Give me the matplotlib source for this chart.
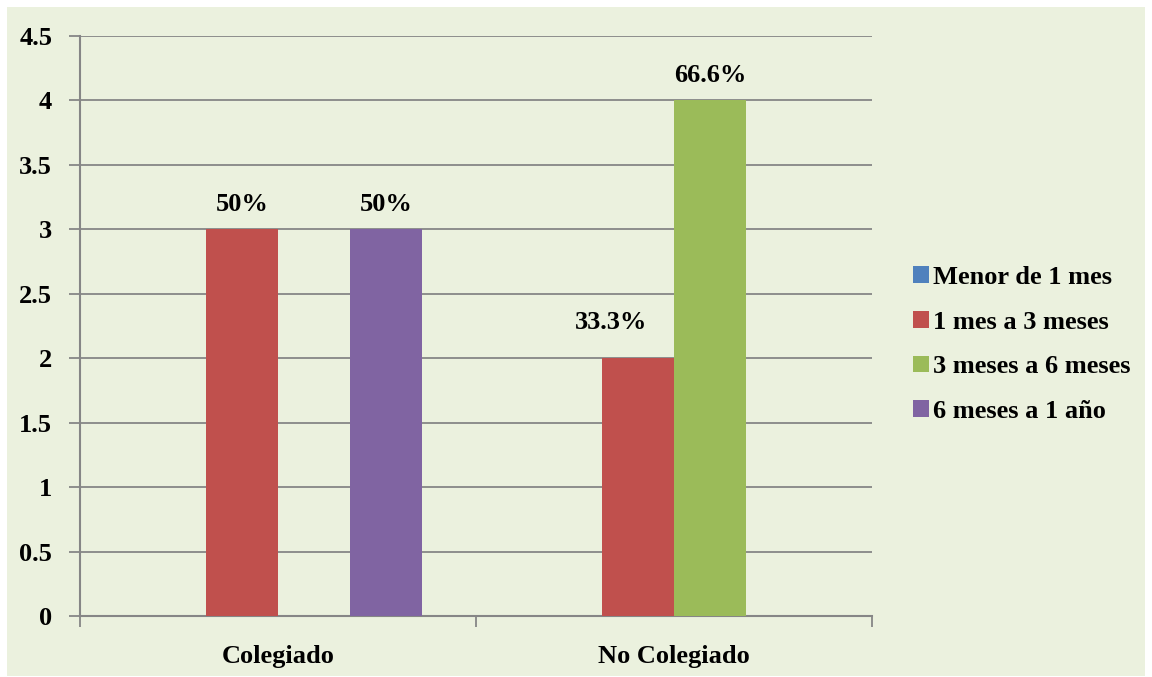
import matplotlib
matplotlib.use("Agg")
import matplotlib.pyplot as plt
from matplotlib.patches import Rectangle, Patch
import numpy as np

categories = ["Colegiado", "No Colegiado"]
series_names = ["Menor de 1 mes", "1 mes a 3 meses", "3 meses a 6 meses", "6 meses a 1 año"]
menor_1_mes = [0, 0]
mes1_a_3 = [3, 2]
mes3_a_6 = [0, 4]
mes6_a_1ano = [3, 0]
pct_labels = [["", ""], ["50%", "33.3%"], ["", "66.6%"], ["50%", ""]]
y_ticks = [0, 0.5, 1, 1.5, 2, 2.5, 3, 3.5, 4, 4.5]
y_tick_labels = ["0", "0.5", "1", "1.5", "2", "2.5", "3", "3.5", "4", "4.5"]

colors = ["#4F81BD", "#C0504D", "#9BBB59", "#8064A2"]
grid_c = "#868686"
bg = "#EBF1DE"

plt.rcParams["font.family"] = ["Liberation Serif", "DejaVu Serif"]
plt.rcParams["font.weight"] = "bold"
FS = 19

W, H = 1152, 677
fig = plt.figure(figsize=(W / 100, H / 100), dpi=100, facecolor="white")
fig.patches.append(Rectangle((7 / W, 1 - 676 / H), (1145 - 7) / W, (676 - 7) / H,
                             transform=fig.transFigure, facecolor=bg, edgecolor="none", zorder=-10))

ax = fig.add_axes([80 / W, 1 - 616 / H, (872 - 80) / W, (616 - 36) / H])
ax.set_facecolor("none")

series = [menor_1_mes, mes1_a_3, mes3_a_6, mes6_a_1ano]
x = np.arange(len(categories))
bw = 0.182
for i, (vals, name, c) in enumerate(zip(series, series_names, colors)):
    bars = ax.bar(x + (i - 1.5) * bw, vals, bw, color=c, label=name, zorder=3)
    for j, rect in enumerate(bars):
        lab = pct_labels[i][j]
        if not lab:
            continue
        # the 33.3% label was moved manually in the original chart
        dx, dy = (-27, 29) if lab == "33.3%" else (0, 18)
        ax.annotate(lab, (rect.get_x() + rect.get_width() / 2, rect.get_height()),
                    xytext=(dx, dy), textcoords="offset pixels",
                    ha="center", va="baseline", fontsize=FS, fontweight="bold")

ax.set_xlim(-0.5, 1.5)
ax.set_ylim(0, 4.5)
ax.set_yticks(y_ticks)
ax.set_yticklabels(y_tick_labels)
ax.set_xticks([-0.5, 0.5, 1.5])
ax.set_xticklabels(["", "", ""])
ax.set_xticks(x, minor=True)
ax.set_xticklabels(categories, minor=True)
ax.tick_params(axis="x", which="major", length=8, width=1.3, color=grid_c, direction="out")
ax.tick_params(axis="x", which="minor", length=0, pad=21, labelsize=FS)
ax.tick_params(axis="y", length=8, width=1.3, color=grid_c, direction="out", pad=12, labelsize=FS)

ax.yaxis.grid(True, color=grid_c, linewidth=1.3, zorder=0)
ax.set_axisbelow(True)
for s in ["top", "right"]:
    ax.spines[s].set_visible(False)
for s in ["left", "bottom"]:
    ax.spines[s].set_color(grid_c)
    ax.spines[s].set_linewidth(1.5)

handles = [Patch(facecolor=c, edgecolor="none") for c in colors]
fig.legend(handles, series_names, loc="upper left", bbox_to_anchor=(913 / W, 1 - 266 / H),
           frameon=False, fontsize=FS, borderpad=0, borderaxespad=0,
           handlelength=0.6, handleheight=0.6, handletextpad=0.15, labelspacing=0.82,
           prop={"weight": "bold", "size": FS})

fig.savefig("out.png", dpi=100, facecolor="white")
